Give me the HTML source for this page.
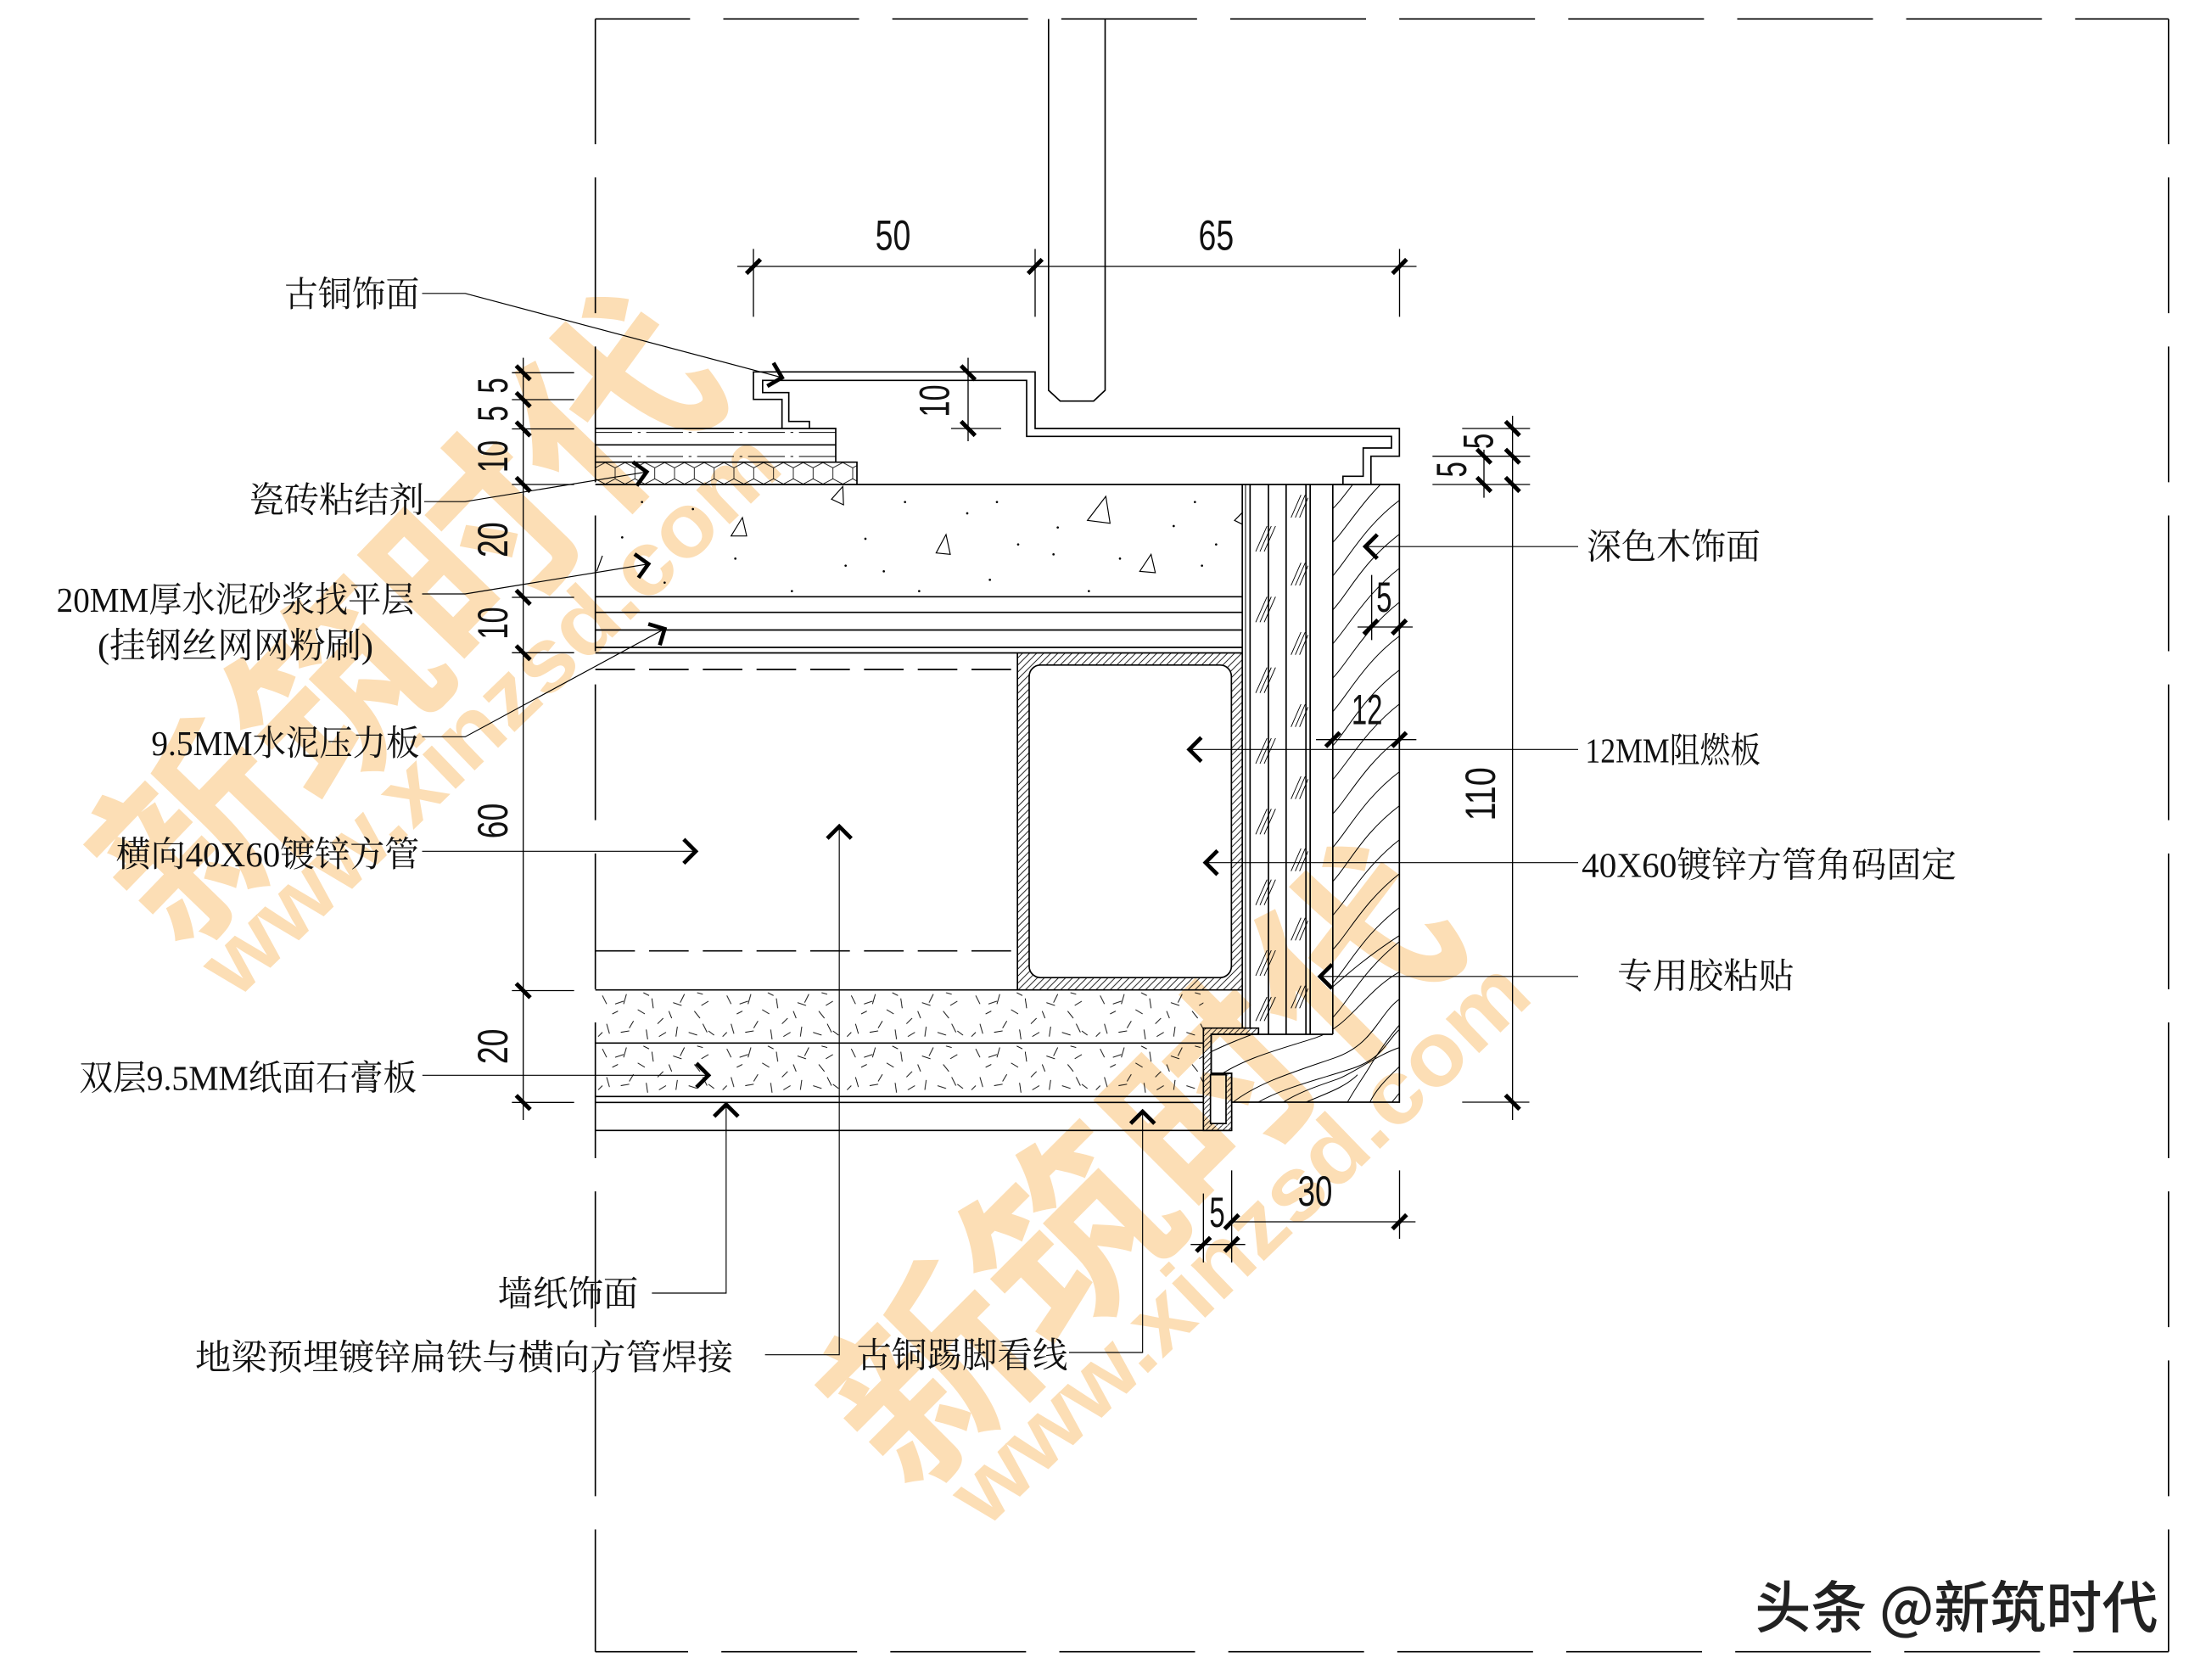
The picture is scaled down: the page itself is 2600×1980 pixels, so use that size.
<!DOCTYPE html>
<html><head><meta charset="utf-8">
<style>
html,body{margin:0;padding:0;background:#fff;}
svg{display:block;}
.lb{font-family:"Liberation Serif","Noto Serif CJK SC",serif;font-size:25px;fill:#111;}
.dm{font-family:"Liberation Sans",sans-serif;font-size:30px;fill:#111;text-anchor:middle;}
</style></head><body>
<svg xmlns="http://www.w3.org/2000/svg" width="2600" height="1980" viewBox="0 0 1560 1188">
<defs>
 <marker id="ar" markerUnits="userSpaceOnUse" markerWidth="30" markerHeight="30" refX="0" refY="0" orient="auto" viewBox="-15 -15 30 30" overflow="visible">
   <path d="M-8.5,-8.5 L0,0 L-8.5,8.5" fill="none" stroke="#000" stroke-width="2.8"/>
 </marker>
 <pattern id="h45" patternUnits="userSpaceOnUse" width="5" height="5">
   <path d="M-1,6 L6,-1 M-1,1 L1,-1 M4,6 L6,4" stroke="#000" stroke-width="0.5"/>
 </pattern>
 <pattern id="h4" patternUnits="userSpaceOnUse" width="4" height="4">
   <path d="M-1,5 L5,-1" stroke="#000" stroke-width="0.5"/>
 </pattern>
 <pattern id="hex" patternUnits="userSpaceOnUse" x="421" y="326.8" width="14" height="15.8">
   <path d="M0,4 L7,0.3 L14,4 M0,4 L0,11.8 M14,4 L14,11.8 M0,11.8 L7,15.5 L14,11.8" fill="none" stroke="#000" stroke-width="0.5"/>
 </pattern>
 <pattern id="gyp" patternUnits="userSpaceOnUse" x="421" y="700" width="88" height="37.7">
   <path d="M5,4 l3,6 M14,10 l6,-2 M22,3 l-2,7 M30,14 l5,3 M40,6 l1,7 M48,20 l-4,4 M55,9 l6,2 M63,3 l-3,6 M70,15 l4,5 M80,8 l-5,3 M8,24 l2,7 M18,30 l6,-1 M27,22 l-3,5 M36,28 l1,7 M45,33 l5,-3 M58,26 l-1,7 M66,30 l6,2 M76,24 l3,6 M84,32 l-4,-3 M12,17 l4,-2 M52,15 l2,5 M34,2 l4,2 M2,33 l3,-3 M72,2 l4,1" stroke="#000" stroke-width="0.55" fill="none"/>
 </pattern>
 <clipPath id="woodclip">
   <path d="M942.5,342.6 H989.6 V779.4 H871 V759 H856.5 V731.4 H942.5 Z"/>
 </clipPath>
</defs>

<!-- watermarks -->
<g fill="#f7ad45" fill-opacity="0.4">
 <text x="280" y="432" transform="rotate(-46 280 432)" font-family="Noto Sans CJK SC, sans-serif" font-weight="700" font-size="140" text-anchor="middle" dominant-baseline="central" textLength="560" lengthAdjust="spacingAndGlyphs">新筑时代</text>
 <text x="346" y="504" transform="rotate(-44 346 504)" font-family="Liberation Sans, sans-serif" font-weight="bold" font-size="64" text-anchor="middle" dominant-baseline="central" textLength="540" lengthAdjust="spacingAndGlyphs">www.xinzsd.com</text>
 <text x="800" y="818" transform="rotate(-45 800 818)" font-family="Noto Sans CJK SC, sans-serif" font-weight="700" font-size="140" text-anchor="middle" dominant-baseline="central" textLength="560" lengthAdjust="spacingAndGlyphs">新筑时代</text>
 <text x="876" y="878" transform="rotate(-44 876 878)" font-family="Liberation Sans, sans-serif" font-weight="bold" font-size="64" text-anchor="middle" dominant-baseline="central" textLength="540" lengthAdjust="spacingAndGlyphs">www.xinzsd.com</text>
</g>

<!-- frame -->
<g stroke="#000" stroke-width="1" fill="none" stroke-dasharray="96 23.5">
 <path d="M421,13.4 H1533.5" stroke-dashoffset="29"/>
 <path d="M421,1168 H1533.5" stroke-dashoffset="30.4"/>
 <path d="M421,13.4 V1168" stroke-dashoffset="7.4"/>
 <path d="M1533.5,13.4 V1168" stroke-dashoffset="7.4"/>
</g>

<!-- fills / hatches -->
<rect x="421" y="326.8" width="185" height="15.8" fill="url(#hex)"/>
<rect x="421" y="700" width="430" height="75.4" fill="url(#gyp)"/>
<path d="M719.5,461.7 H878.5 V700 H719.5 Z M735.8,470.3 H862.8 Q870.8,470.3 870.8,478.3 V683.3 Q870.8,691.3 862.8,691.3 H735.8 Q727.8,691.3 727.8,683.3 V478.3 Q727.8,470.3 735.8,470.3 Z" fill="url(#h45)" fill-rule="evenodd"/>
<path d="M851,727 H890 V731.4 H856.5 V759 H871 V799.4 H851 Z M856,760 V794.5 H867 V760 Z" fill="url(#h4)" fill-rule="evenodd"/>

<!-- wood grain -->
<g clip-path="url(#woodclip)" stroke="#000" stroke-width="0.6" fill="none">
 <path d="M940,362 C952,352 962,330 992,306"/>
 <path d="M940,386 C953,374 963,352 992,328"/>
 <path d="M940,410 C952,398 964,372 992,352"/>
 <path d="M940,434 C954,420 962,398 992,376"/>
 <path d="M940,458 C952,446 965,420 992,400"/>
 <path d="M940,482 C953,470 963,446 992,424"/>
 <path d="M940,506 C952,494 964,468 992,448"/>
 <path d="M940,530 C954,516 962,494 992,472"/>
 <path d="M940,554 C952,542 965,516 992,496"/>
 <path d="M940,578 C953,566 963,542 992,520"/>
 <path d="M940,602 C952,590 964,564 992,544"/>
 <path d="M940,626 C954,612 962,590 992,568"/>
 <path d="M940,650 C952,638 965,612 992,592"/>
 <path d="M940,674 C953,662 963,638 992,616"/>
 <path d="M940,698 C952,686 964,660 992,640"/>
 <path d="M940,722 C953,710 963,686 992,664"/>
 <path d="M856,744 C872,736 890,730 910,722 S945,690 992,660"/>
 <path d="M860,762 C880,748 905,742 930,734 S965,700 992,686"/>
 <path d="M870,781 C888,766 915,758 944,748 S975,715 992,705"/>
 <path d="M887,781 C905,770 930,764 955,756 S980,735 992,726"/>
 <path d="M905,781 C918,772 935,767 946,763 S975,745 992,740"/>
 <path d="M920,781 C935,774 950,770 960,760"/>
 <path d="M952,781 C958,770 964,762 970,752 S985,730 992,722"/>
 <path d="M968,781 C972,772 978,765 992,752"/>
 <path d="M983,781 L992,770"/>
</g>

<!-- main drawing lines -->
<g stroke="#000" stroke-width="1" fill="none">
 <path d="M741.5,13.4 V276 L749.7,283.6 H773.4 L781.5,276 V13.4"/>
 <path d="M553,303 V282.4 H532.8 V263 H732 V303 H989.6 V322.6 H969.5 V342.6"/>
 <path d="M572.4,303 V298 H557.8 V277.6 H539.3 V269 H726 V308.6 H984 V316.8 H964 V336.8 H949.7 V342.6"/>
 <path d="M421,303 H591 V326.8 M421,314.6 H591 M421,326.8 H606 V342.6"/>
 <path d="M421,305.8 H591 M421,322.8 H591" stroke-width="0.6" stroke-dasharray="26 4 2 4"/>
 <path d="M421,342.6 H989.6"/>
 <path d="M421,422 H878.5 M421,433 H878.5 M421,445.5 H878.5 M421,457.8 H878.5 M421,461.7 H878.5"/>
 <path d="M421,473.4 H719.5 M421,672.4 H719.5" stroke-dasharray="28 10"/>
 <path d="M719.5,461.7 V700"/>
 <rect x="727.8" y="470.3" width="143" height="221" rx="8" ry="8"/>
 <path d="M421,700 H878.5 M421,737.6 H851 M421,775.4 H851 M421,779.6 H851 M421,799.4 H871"/>
 <path d="M878.5,342.6 V727 M884,342.6 V727 M897,342.6 V731.4 M909.5,342.6 V731.4 M923.5,342.6 V731.4 M926.5,342.6 V731.4 M942.5,342.6 V731.4"/>
 <path d="M880.8,342.6 V727" stroke-width="0.6"/>
 <path d="M942.5,342.6 H989.6 V779.4 H871 V759 H856.5 V731.4 H942.5"/>
 <path d="M851,727 H890 V731.4 H856.5 V759 H871 V799.4 H851 Z"/>
 <rect x="856" y="760" width="11" height="34.5"/>
</g>

<!-- board hatch marks -->
<g stroke="#000" stroke-width="0.55">
 <path d="M888,390 L896,372 M891,390 L899,372 M894,390 L902,372"/>
 <path d="M888,440 L896,422 M891,440 L899,422 M894,440 L902,422"/>
 <path d="M888,490 L896,472 M891,490 L899,472 M894,490 L902,472"/>
 <path d="M888,540 L896,522 M891,540 L899,522 M894,540 L902,522"/>
 <path d="M888,590 L896,572 M891,590 L899,572 M894,590 L902,572"/>
 <path d="M888,640 L896,622 M891,640 L899,622 M894,640 L902,622"/>
 <path d="M888,690 L896,672 M891,690 L899,672 M894,690 L902,672"/>
 <path d="M888,722 L896,705 M891,722 L899,705 M894,722 L902,705"/>
 <path d="M913,366 L920,350 M916,366 L923,350 M919,366 L925,352"/>
 <path d="M913,414 L920,398 M916,414 L923,398 M919,414 L925,400"/>
 <path d="M913,463 L920,447 M916,463 L923,447 M919,463 L925,449"/>
 <path d="M913,514 L920,498 M916,514 L923,498 M919,514 L925,500"/>
 <path d="M913,565 L920,549 M916,565 L923,549 M919,565 L925,551"/>
 <path d="M913,616 L920,600 M916,616 L923,600 M919,616 L925,602"/>
 <path d="M913,665 L920,649 M916,665 L923,649 M919,665 L925,651"/>
 <path d="M913,713 L920,697 M916,713 L923,697 M919,713 L925,699"/>
</g>

<!-- concrete aggregates -->
<g stroke="#000" stroke-width="0.7" fill="none">
 <path d="M596,344 L588,353 L596.5,357 Z"/>
 <path d="M525,366 L517,379 L528,379 Z"/>
 <path d="M782,351 L769,368 L785,370 Z"/>
 <path d="M669,378 L662,391 L672,392 Z"/>
 <path d="M814,392 L806,404 L817,405 Z"/>
 <path d="M879,362 L873,368 L879,371"/>
 <path d="M426,393 L422,404"/>
</g>
<g fill="#000">
 <circle cx="684" cy="363" r="0.8"/><circle cx="748" cy="373" r="0.8"/><circle cx="792" cy="395" r="0.8"/>
 <circle cx="850" cy="400" r="0.8"/><circle cx="700" cy="410" r="0.8"/><circle cx="612" cy="381" r="0.8"/>
 <circle cx="440" cy="380" r="0.8"/><circle cx="470" cy="412" r="0.8"/><circle cx="520" cy="395" r="0.8"/>
 <circle cx="560" cy="418" r="0.8"/><circle cx="640" cy="355" r="0.8"/><circle cx="705" cy="355" r="0.8"/>
 <circle cx="830" cy="372" r="0.8"/><circle cx="745" cy="392" r="0.8"/><circle cx="860" cy="385" r="0.8"/>
 <circle cx="598" cy="400" r="0.8"/><circle cx="490" cy="360" r="0.8"/><circle cx="650" cy="418" r="0.8"/>
 <circle cx="770" cy="418" r="0.8"/><circle cx="454" cy="355" r="0.8"/><circle cx="625" cy="404" r="0.8"/>
 <circle cx="720" cy="385" r="0.8"/><circle cx="845" cy="355" r="0.8"/>
</g>

<!-- dimension lines -->
<g stroke="#000" stroke-width="0.8" fill="none">
 <path d="M370,253 V792"/>
 <path d="M362,263.6 H406 M362,282.6 H406 M362,303.3 H406 M362,342.6 H406 M362,422.4 H406 M362,461.6 H406 M362,700.5 H406 M362,779.6 H406"/>
 <path d="M521.4,188.4 H1001.7 M532.8,176 V224 M732,176 V224 M989.7,176 V224"/>
 <path d="M684.6,253 V312 M672.6,303 H708"/>
 <path d="M1069.6,294 V792 M1049.4,318 V352"/>
 <path d="M1034,303 H1082 M1013,322.6 H1082 M1013,342.6 H1082 M1034,779.4 H1081.5"/>
 <path d="M960,443.4 H999 M970,406.6 V452.6 M930.6,523 H1001.6"/>
 <path d="M869,864 H1001 M842,880 H880.6 M851,844 V892.7 M871,827.6 V892.7 M989.7,827.6 V876"/>
</g>
<g stroke="#000" stroke-width="3" fill="none">
 <path d="M365,258.6 L375,268.6 M365,277.6 L375,287.6 M365,298.3 L375,308.3 M365,337.6 L375,347.6 M365,417.4 L375,427.4 M365,456.6 L375,466.6 M365,695.5 L375,705.5 M365,774.6 L375,784.6"/>
 <path d="M527.8,193.4 L537.8,183.4 M727,193.4 L737,183.4 M984.7,193.4 L994.7,183.4"/>
 <path d="M679.6,258.6 L689.6,268.6 M679.6,298 L689.6,308"/>
 <path d="M1064.6,298 L1074.6,308 M1064.6,317.6 L1074.6,327.6 M1064.6,337.6 L1074.6,347.6 M1064.6,774.4 L1074.6,784.4"/>
 <path d="M1044.4,317.6 L1054.4,327.6 M1044.4,337.6 L1054.4,347.6"/>
 <path d="M964.4,448.4 L974.4,438.4 M984.5,448.4 L994.5,438.4"/>
 <path d="M937.5,528 L947.5,518 M984.5,528 L994.5,518"/>
 <path d="M866,869 L876,859 M984.7,869 L994.7,859"/>
 <path d="M846,885 L856,875 M866,885 L876,875"/>
</g>

<!-- dimension text -->
<g class="dm">
 <text x="631.5" y="176.7" textLength="25" lengthAdjust="spacingAndGlyphs">50</text>
 <text x="860" y="176.7" textLength="25" lengthAdjust="spacingAndGlyphs">65</text>
 <text transform="translate(660.5,283.5) rotate(-90)" x="0" y="10.7" textLength="23" lengthAdjust="spacingAndGlyphs">10</text>
 <text transform="translate(348,272.7) rotate(-90)" x="0" y="10.7" textLength="11" lengthAdjust="spacingAndGlyphs">5</text>
 <text transform="translate(348,292.5) rotate(-90)" x="0" y="10.7" textLength="11" lengthAdjust="spacingAndGlyphs">5</text>
 <text transform="translate(348,322.8) rotate(-90)" x="0" y="10.7" textLength="23" lengthAdjust="spacingAndGlyphs">10</text>
 <text transform="translate(348,381.7) rotate(-90)" x="0" y="10.7" textLength="25" lengthAdjust="spacingAndGlyphs">20</text>
 <text transform="translate(348,440.7) rotate(-90)" x="0" y="10.7" textLength="23" lengthAdjust="spacingAndGlyphs">10</text>
 <text transform="translate(348,580.5) rotate(-90)" x="0" y="10.7" textLength="25" lengthAdjust="spacingAndGlyphs">60</text>
 <text transform="translate(348,740) rotate(-90)" x="0" y="10.7" textLength="25" lengthAdjust="spacingAndGlyphs">20</text>
 <text transform="translate(1045,312) rotate(-90)" x="0" y="10.7" textLength="11" lengthAdjust="spacingAndGlyphs">5</text>
 <text transform="translate(1026,332) rotate(-90)" x="0" y="10.7" textLength="11" lengthAdjust="spacingAndGlyphs">5</text>
 <text transform="translate(1046.5,561.5) rotate(-90)" x="0" y="10.7" textLength="38" lengthAdjust="spacingAndGlyphs">110</text>
 <text x="978.8" y="432.5" textLength="11" lengthAdjust="spacingAndGlyphs">5</text>
 <text x="966.7" y="512" textLength="22" lengthAdjust="spacingAndGlyphs">12</text>
 <text x="860.7" y="867.5" textLength="11" lengthAdjust="spacingAndGlyphs">5</text>
 <text x="930" y="852.7" textLength="24.5" lengthAdjust="spacingAndGlyphs">30</text>
</g>

<!-- leaders -->
<g stroke="#000" stroke-width="0.7" fill="none" marker-end="url(#ar)">
 <path d="M298.5,207.5 H329 L553,267"/>
 <path d="M300,354.7 H329 L457.3,333.7"/>
 <path d="M298.5,420 H329 L458.5,398.8"/>
 <path d="M298.5,521 H329 L470,444.7"/>
 <path d="M298.5,602 H492"/>
 <path d="M298.7,760.4 H501"/>
 <path d="M461,914.4 H513.5 V781"/>
 <path d="M541,958 H593.5 V584.4"/>
 <path d="M756,956.4 H808 V786"/>
 <path d="M1116,386.5 H965.5"/>
 <path d="M1116,530 H841"/>
 <path d="M1116,610 H852.5"/>
 <path d="M1116,690.5 H933.5"/>
</g>

<!-- labels -->
<g class="lb">
 <text x="201" y="216.5" textLength="95.6" lengthAdjust="spacingAndGlyphs">古铜饰面</text>
 <text x="176" y="362" textLength="124" lengthAdjust="spacingAndGlyphs">瓷砖粘结剂</text>
 <text x="40" y="432.6" textLength="253" lengthAdjust="spacingAndGlyphs">20MM厚水泥砂浆找平层</text>
 <text x="69" y="465" textLength="195" lengthAdjust="spacingAndGlyphs">(挂钢丝网网粉刷)</text>
 <text x="107" y="534" textLength="189.6" lengthAdjust="spacingAndGlyphs">9.5MM水泥压力板</text>
 <text x="82" y="612.5" textLength="214.6" lengthAdjust="spacingAndGlyphs">横向40X60镀锌方管</text>
 <text x="56" y="770.6" textLength="238.7" lengthAdjust="spacingAndGlyphs">双层9.5MM纸面石膏板</text>
 <text x="352" y="923.4" textLength="99.4" lengthAdjust="spacingAndGlyphs">墙纸饰面</text>
 <text x="138" y="968.4" textLength="380.6" lengthAdjust="spacingAndGlyphs">地梁预埋镀锌扁铁与横向方管焊接</text>
 <text x="605.6" y="967" textLength="149.4" lengthAdjust="spacingAndGlyphs">古铜踢脚看线</text>
 <text x="1122" y="395" textLength="123" lengthAdjust="spacingAndGlyphs">深色木饰面</text>
 <text x="1121" y="539" textLength="124" lengthAdjust="spacingAndGlyphs">12MM阻燃板</text>
 <text x="1118.5" y="620" textLength="265" lengthAdjust="spacingAndGlyphs">40X60镀锌方管角码固定</text>
 <text x="1143.7" y="698.6" textLength="125" lengthAdjust="spacingAndGlyphs">专用胶粘贴</text>
</g>

<text x="1241" y="1151" font-family="Noto Sans CJK SC, sans-serif" font-weight="500" font-size="40" fill="#222" textLength="285" lengthAdjust="spacingAndGlyphs">头条 @新筑时代</text>
</svg>
</body></html>
